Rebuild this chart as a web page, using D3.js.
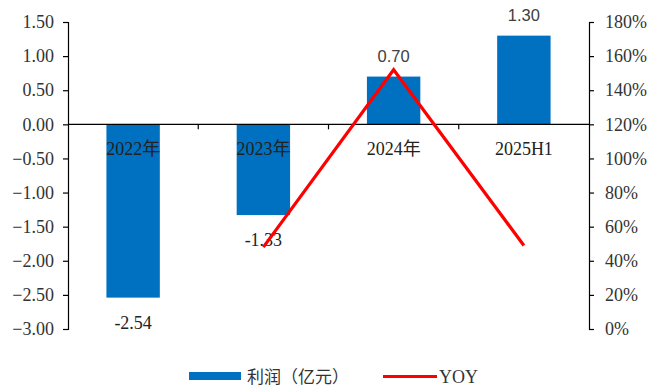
<!DOCTYPE html>
<html>
<head>
<meta charset="utf-8">
<script src="https://cdn.jsdelivr.net/npm/d3@7/dist/d3.min.js"></script>
<style>
  html, body { margin: 0; padding: 0; background: #fff; }
  svg { display: block; }
</style>
</head>
<body>
<svg id="chart" width="664" height="387"></svg>
<script>
// Profit (100m CNY) and year-over-year ratio per period
const categories = ["2022年", "2023年", "2024年", "2025H1"];
const profit = [-2.54, -1.33, 0.70, 1.30];
const profitLabels = ["-2.54", "-1.33", "0.70", "1.30"];
const yoyCategories = ["2023年", "2024年", "2025H1"];
const yoy = [0.48, 1.52, 0.49];
const leftTicks = [1.5, 1.0, 0.5, 0, -0.5, -1.0, -1.5, -2.0, -2.5, -3.0];
const rightTicks = [0, 0.2, 0.4, 0.6, 0.8, 1.0, 1.2, 1.4, 1.6, 1.8];
const legendLabels = ["利润（亿元）", "YOY"];

const serif = "'Liberation Serif', 'Times New Roman', 'Noto Sans CJK SC', serif";
const sans = "'Liberation Sans', 'Noto Sans', sans-serif";
const cjk = "'Noto Sans CJK SC', sans-serif";
const barColor = "#0070C0";
const lineColor = "#FF0000";
const textColor = "#333333";

const svg = d3.select("#chart");
const plot = { left: 68, right: 589, top: 22, bottom: 329 };

const x = d3.scaleBand()
  .domain(categories)
  .range([plot.left, plot.right])
  .paddingInner(0.59)
  .paddingOuter(0.295);
const xStep = x.step();
const xCenter = c => x(c) + x.bandwidth() / 2;

const yL = d3.scaleLinear().domain([-3, 1.5]).range([plot.bottom, plot.top]);
const yR = d3.scaleLinear().domain([0, 1.8]).range([plot.bottom, plot.top]);

// Bars
svg.append("g").selectAll("rect")
  .data(profit)
  .join("rect")
  .attr("x", (d, i) => x(categories[i]))
  .attr("width", x.bandwidth())
  .attr("y", d => yL(Math.max(0, d)))
  .attr("height", d => Math.abs(yL(d) - yL(0)))
  .attr("fill", barColor);

// Left axis
const leftAxis = d3.axisLeft(yL)
  .tickValues(leftTicks)
  .tickFormat(d3.format(".2f"))
  .tickSizeInner(5)
  .tickSizeOuter(5)
  .tickPadding(9);
const gL = svg.append("g")
  .attr("transform", `translate(${plot.left},0)`)
  .call(leftAxis);

// Right axis
const rightAxis = d3.axisRight(yR)
  .tickValues(rightTicks)
  .tickFormat(d3.format(".0%"))
  .tickSizeInner(5)
  .tickSizeOuter(5)
  .tickPadding(11);
const gR = svg.append("g")
  .attr("transform", `translate(${plot.right},0)`)
  .call(rightAxis);

[gL, gR].forEach(g => {
  g.selectAll("path, line").attr("stroke", "#000").attr("stroke-width", 1.2);
  g.selectAll("text")
    .attr("fill", textColor)
    .style("font-family", serif)
    .style("font-size", "18px");
});

// Category axis along zero
const gX = svg.append("g").attr("transform", `translate(0,${yL(0)})`);
gX.append("line")
  .attr("x1", plot.left).attr("x2", plot.right)
  .attr("stroke", "#000").attr("stroke-width", 1.2);
gX.selectAll("line.tick")
  .data(categories.slice(1))
  .join("line")
  .attr("class", "tick")
  .attr("x1", d => x(d) - (xStep - x.bandwidth()) / 2)
  .attr("x2", d => x(d) - (xStep - x.bandwidth()) / 2)
  .attr("y1", 0).attr("y2", 5)
  .attr("stroke", "#000").attr("stroke-width", 1.2);
gX.selectAll("text")
  .data(categories)
  .join("text")
  .attr("x", d => xCenter(d))
  .attr("y", 31)
  .attr("text-anchor", "middle")
  .attr("fill", "#222")
  .style("font-family", serif)
  .style("font-size", "18px")
  .text(d => d);

// Bar value labels
svg.append("g").selectAll("text")
  .data(profit)
  .join("text")
  .attr("x", (d, i) => xCenter(categories[i]))
  .attr("y", d => d >= 0 ? yL(d) - 15 : yL(d) + 31)
  .attr("text-anchor", "middle")
  .attr("fill", d => d >= 0 ? "#404040" : "#222")
  .style("font-family", d => d >= 0 ? sans : serif)
  .style("font-size", d => d >= 0 ? "16.5px" : "18px")
  .text((d, i) => profitLabels[i]);

// YOY line
const line = d3.line()
  .x((d, i) => xCenter(yoyCategories[i]))
  .y(d => yR(d));
svg.append("path")
  .datum(yoy)
  .attr("d", line)
  .attr("fill", "none")
  .attr("stroke", lineColor)
  .attr("stroke-width", 3.2)
  .attr("stroke-linejoin", "miter");

// Legend
const lg = svg.append("g");
lg.append("rect")
  .attr("x", 189).attr("y", 372)
  .attr("width", 52).attr("height", 8)
  .attr("fill", barColor);
lg.append("text")
  .attr("x", 247).attr("y", 382.5)
  .attr("fill", textColor)
  .style("font-family", cjk)
  .style("font-size", "17px")
  .text(legendLabels[0]);
lg.append("line")
  .attr("x1", 383).attr("x2", 437)
  .attr("y1", 376.5).attr("y2", 376.5)
  .attr("stroke", lineColor)
  .attr("stroke-width", 3);
lg.append("text")
  .attr("x", 439).attr("y", 383)
  .attr("fill", textColor)
  .style("font-family", serif)
  .style("font-size", "18px")
  .text(legendLabels[1]);
</script>
</body>
</html>
